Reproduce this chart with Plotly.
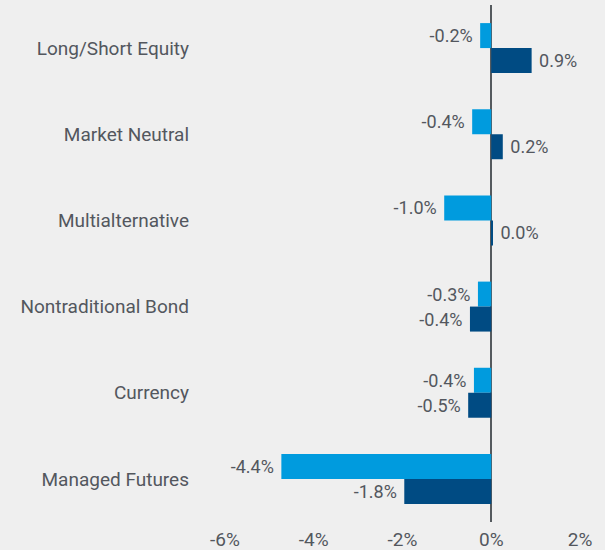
import plotly.graph_objects as go

categories = ["Long/Short Equity", "Market Neutral", "Multialternative",
              "Nontraditional Bond", "Currency", "Managed Futures"]
# bar lengths as drawn in the picture (percent)
series_a = [-0.25, -0.43, -1.06, -0.30, -0.39, -4.73]
series_b = [0.91, 0.26, 0.02, -0.48, -0.52, -1.96]
# printed labels
labels_a = ["-0.2%", "-0.4%", "-1.0%", "-0.3%", "-0.4%", "-4.4%"]
labels_b = ["0.9%", "0.2%", "0.0%", "-0.4%", "-0.5%", "-1.8%"]
tick_vals = [-6, -4, -2, 0, 2]
tick_text = ["-6%", "-4%", "-2%", "0%", "2%"]

FONT = "Roboto, sans-serif"
TXT = "#53575e"
NB = "\u00a0"
FS = 19


def pad(vals, labs):
    return [(l + NB) if v < 0 else (NB + l) for v, l in zip(vals, labs)]


fig = go.Figure()
fig.add_trace(go.Bar(y=categories, x=series_a, orientation="h",
                     marker=dict(color="#009bde", line=dict(width=0)),
                     text=pad(series_a, labels_a), textposition="outside",
                     textfont=dict(family=FONT, size=FS - 1, color=TXT),
                     constraintext="none", cliponaxis=False, hoverinfo="skip"))
fig.add_trace(go.Bar(y=categories, x=series_b, orientation="h",
                     marker=dict(color="#004b83", line=dict(width=0)),
                     text=pad(series_b, labels_b), textposition="outside",
                     textfont=dict(family=FONT, size=FS - 1, color=TXT),
                     constraintext="none", cliponaxis=False, hoverinfo="skip"))

fig.update_layout(
    width=605, height=550,
    barmode="group", bargap=0.42, bargroupgap=0,
    showlegend=False,
    paper_bgcolor="#efefef", plot_bgcolor="#efefef",
    margin=dict(l=225, r=25, t=5, b=28),
    font=dict(family=FONT, size=FS, color=TXT),
    xaxis=dict(range=[-6, 2], tickvals=tick_vals, ticktext=tick_text,
               showgrid=False, zeroline=True, zerolinecolor="#555a5e",
               zerolinewidth=2, showline=False, ticks="", automargin=False,
               ticklabelstandoff=4,
               tickfont=dict(family=FONT, size=FS, color=TXT)),
    yaxis=dict(autorange="reversed", showgrid=False, zeroline=False,
               showline=False, ticks="", ticklabelstandoff=35, automargin=False,
               tickfont=dict(family=FONT, size=FS, color=TXT)),
)

fig.write_html("out.html", config={"displayModeBar": False},
               post_script="document.body.style.margin='0px';document.body.style.background='#efefef';")
